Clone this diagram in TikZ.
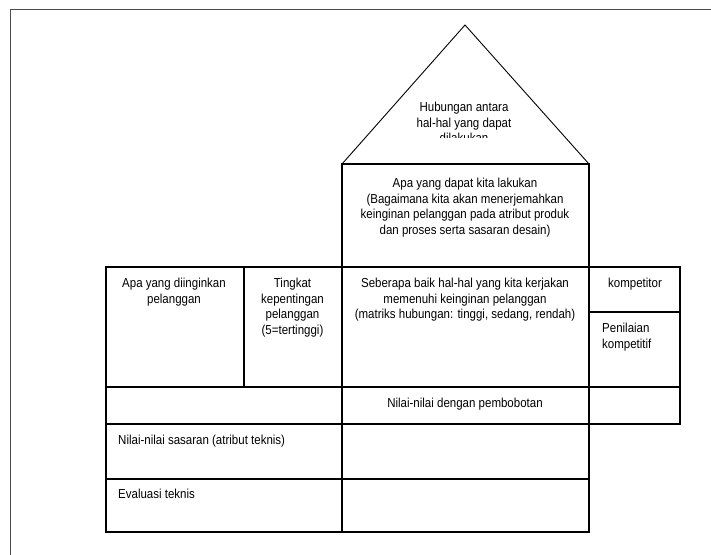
\documentclass[tikz,border=0pt]{standalone}
\usepackage{fontspec}
\setmainfont{Liberation Sans}[FakeStretch=0.885]
\begin{document}
\begin{tikzpicture}[x=1pt,y=-1pt,
  cell/.style={draw=black,line width=1.1pt},
  frame/.style={draw=black!70,line width=1.6pt},
  lbl/.style={inner sep=0pt,font=\fontsize{13}{15.5}\selectfont,text=black},
  clbl/.style={lbl,align=center,anchor=north},
  llbl/.style={lbl,align=left,anchor=north west}]
\useasboundingbox (0,0) rectangle (711,554);
\fill[white] (0,0) rectangle (711,554);
% outer frame (runs off the page on right and bottom)
\coordinate (f1) at (10.5,560);
\coordinate (f2) at (10.5,9.5);
\coordinate (f3) at (720,9.5);
\draw[frame] (f1) -- (f2) -- (f3);
% roof
\coordinate (apex) at (465,25);
\coordinate (rl) at (342,164);
\coordinate (rr) at (589,164);
\draw[cell,line width=0.9pt,line join=miter] (rl) -- (apex) -- (rr);
% upper box
\draw[cell] (342,164) rectangle (589,267);
% main row
\draw[cell] (106,267) rectangle (244,387);
\draw[cell] (244,267) rectangle (342,387);
\draw[cell] (342,267) rectangle (589,387);
\draw[cell] (589,267) rectangle (680,312);
\draw[cell] (589,312) rectangle (680,387);
% row 2
\draw[cell] (106,387) rectangle (342,424);
\draw[cell] (342,387) rectangle (589,424);
\draw[cell] (589,387) rectangle (680,424);
% row 3
\draw[cell] (106,424) rectangle (342,479);
\draw[cell] (342,424) rectangle (589,479);
% row 4
\draw[cell] (106,479) rectangle (342,532);
\draw[cell] (342,479) rectangle (589,532);
% roof text (third line cut off)
\begin{scope}
\clip (300,60) rectangle (640,137);
\node[clbl] (roof) at (464,102) {Hubungan antara\\hal-hal yang dapat\\dilakukan};
\end{scope}
\node[clbl] (how) at (465,178) {Apa yang dapat kita lakukan\\(Bagaimana kita akan menerjemahkan\\keinginan pelanggan pada atribut produk\\dan proses serta sasaran desain)};
\node[clbl] (what) at (174,278) {Apa yang diinginkan\\pelanggan};
\node[clbl] (imp) at (292.5,278) {Tingkat\\kepentingan\\pelanggan\\(5=tertinggi)};
\node[clbl] (rel) at (465,278) {Seberapa baik hal-hal yang kita kerjakan\\memenuhi keinginan pelanggan\\(matriks hubungan: tinggi, sedang, rendah)};
\node[clbl] (comp) at (635,277.5) {kompetitor};
\node[llbl] (pen) at (602,323) {Penilaian\\kompetitif};
\node[clbl] (wt) at (465,398) {Nilai-nilai dengan pembobotan};
\node[llbl] (tgt) at (118,435) {Nilai-nilai sasaran (atribut teknis)};
\node[llbl] (eval) at (118,489) {Evaluasi teknis};
\end{tikzpicture}
\end{document}
